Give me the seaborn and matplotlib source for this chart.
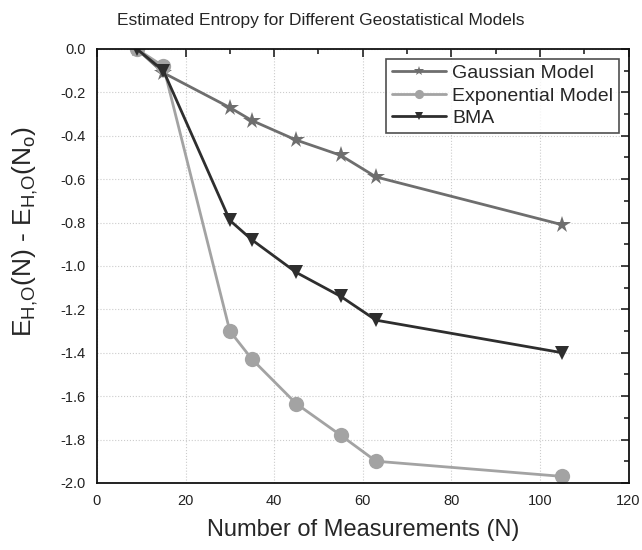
import matplotlib
matplotlib.use("Agg")
import matplotlib.pyplot as plt
import seaborn as sns
import pandas as pd
from matplotlib.ticker import MultipleLocator

n_meas = [9, 15, 30, 35, 45, 55, 63, 105]
gaussian = [0.0, -0.11, -0.27, -0.33, -0.42, -0.49, -0.59, -0.81]
exponential = [0.0, -0.08, -1.30, -1.43, -1.635, -1.78, -1.90, -1.97]
bma = [0.0, -0.10, -0.79, -0.88, -1.03, -1.14, -1.25, -1.40]
models = ["Gaussian Model", "Exponential Model", "BMA"]

sns.set_theme(style="white")
plt.rcParams['font.family'] = ['Liberation Sans', 'DejaVu Sans']
plt.rcParams['mathtext.fontset'] = 'custom'
plt.rcParams['mathtext.rm'] = 'Liberation Sans'
plt.rcParams['mathtext.it'] = 'Liberation Sans'

rows = []
for name, vals in zip(models, [gaussian, exponential, bma]):
    for x, y in zip(n_meas, vals):
        rows.append({"N": x, "E": y, "Model": name})
df = pd.DataFrame(rows)

fig = plt.figure(figsize=(6.42, 5.5), dpi=100)
ax = fig.add_axes([0.151, 0.122, 0.828, 0.789])

palette = {"Gaussian Model": "#6e6e6e", "Exponential Model": "#a3a3a3", "BMA": "#2e2e2e"}
markers = {"Gaussian Model": "*", "Exponential Model": "o", "BMA": "v"}
sizes = {"Gaussian Model": 13, "Exponential Model": 11, "BMA": 10}

for name in models:
    sub = df[df["Model"] == name]
    sns.lineplot(data=sub, x="N", y="E", ax=ax, color=palette[name],
                 marker=markers[name], markersize=sizes[name], linewidth=2,
                 markeredgewidth=0, label=name, sort=False)

ax.set_xlim(0, 120)
ax.set_ylim(-2.0, 0.0)
ax.xaxis.set_major_locator(MultipleLocator(20))
ax.xaxis.set_minor_locator(MultipleLocator(10))
ax.yaxis.set_major_locator(MultipleLocator(0.2))
ax.yaxis.set_minor_locator(MultipleLocator(0.1))
ax.set_yticks(ax.get_yticks())
ax.set_yticklabels([f"{v:.1f}" for v in ax.get_yticks()])
ax.set_ylim(-2.0, 0.0)
ax.tick_params(which="both", direction="in", top=True, right=True, labelsize=10.5, colors="#222222")
ax.tick_params(which="major", length=6, width=1.2, pad=8)
ax.tick_params(which="minor", length=3.5, width=1.2)
ax.grid(True, which="major", linestyle=":", color="#cccccc", linewidth=0.8)
for s in ax.spines.values():
    s.set_color("#111111")
    s.set_linewidth(1.3)

ax.set_xlabel("Number of Measurements (N)", fontsize=17, labelpad=8)
ylab = r"$\mathregular{E_{H{,}O}(N)\ }$" + "\u2010" + r"$\mathregular{\ E_{H{,}O}(N_o)}$"
ax.set_ylabel(ylab, fontsize=19)
ax.yaxis.set_label_coords(-0.108, 0.58)
fig.suptitle("Estimated Entropy for Different Geostatistical Models", fontsize=12.5, y=0.977)

leg = ax.legend(loc="upper right", fontsize=14, frameon=True, fancybox=False,
                edgecolor="#222222", handlelength=2.8, borderpad=0.3, labelspacing=0.25,
                markerscale=0.6, handletextpad=0.3, borderaxespad=0.5)
leg.get_frame().set_linewidth(1.2)

fig.savefig("out.png", dpi=100)
